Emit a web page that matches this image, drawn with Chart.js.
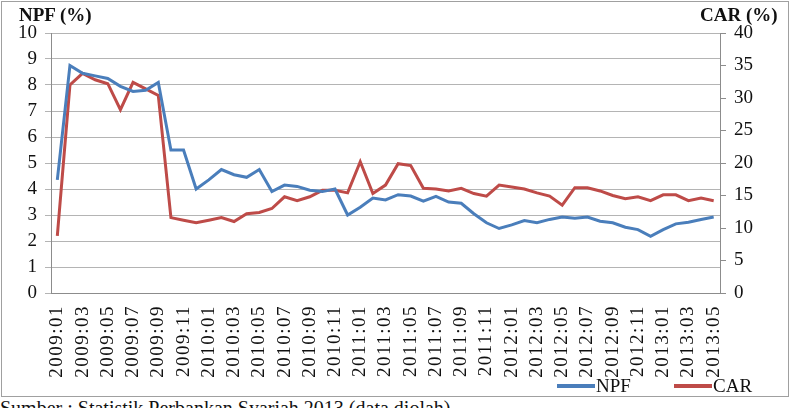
<!DOCTYPE html>
<html>
<head>
<meta charset="utf-8">
<script src="https://cdn.jsdelivr.net/npm/chart.js@4"></script>
<style>
    html, body { margin: 0; padding: 0; background: #fff; overflow: hidden; }
    body { width: 797px; height: 408px; position: relative; font-family: "Liberation Serif", "Times New Roman", serif; }
    .frame { position: absolute; left: 1px; top: 1px; width: 788px; height: 396px; border: 1px solid #a0a0a0; box-sizing: border-box; }
    .frame canvas { position: absolute; left: 0; top: 0; }
    .axis-title { position: absolute; font-weight: bold; font-size: 19px; color: #111; }
    .caption { position: absolute; left: 0; top: 397px; font-size: 20px; color: #111; white-space: nowrap; }
</style>
</head>
<body>
<div class="frame">
    <canvas id="npfChart" width="786" height="394"></canvas>
    <div class="axis-title" style="left:17px; top:2px;">NPF (%)</div>
    <div class="axis-title" style="left:698px; top:2px;">CAR (%)</div>
</div>
<div class="caption">Sumber : Statistik Perbankan Syariah 2013 (data diolah)</div>

<script>
// --- Data ---
const periods = [
    '2009:01', '2009:02', '2009:03', '2009:04', '2009:05', '2009:06', '2009:07', '2009:08', '2009:09', '2009:10', '2009:11', '2009:12',
    '2010:01', '2010:02', '2010:03', '2010:04', '2010:05', '2010:06', '2010:07', '2010:08', '2010:09', '2010:10', '2010:11', '2010:12',
    '2011:01', '2011:02', '2011:03', '2011:04', '2011:05', '2011:06', '2011:07', '2011:08', '2011:09', '2011:10', '2011:11', '2011:12',
    '2012:01', '2012:02', '2012:03', '2012:04', '2012:05', '2012:06', '2012:07', '2012:08', '2012:09', '2012:10', '2012:11', '2012:12',
    '2013:01', '2013:02', '2013:03', '2013:04', '2013:05'
];

const npf = [
    4.35, 8.75, 8.45, 8.35, 8.25, 7.95, 7.75, 7.8, 8.1, 5.5, 5.5, 4.0,
    4.35, 4.75, 4.55, 4.45, 4.75, 3.9, 4.15, 4.1, 3.95, 3.9, 4.0, 3.0,
    3.3, 3.65, 3.58, 3.78, 3.73, 3.53, 3.72, 3.5, 3.45, 3.05, 2.7, 2.48,
    2.62, 2.79, 2.7, 2.83, 2.92, 2.88, 2.92, 2.76, 2.7, 2.53, 2.44, 2.18,
    2.44, 2.66, 2.72, 2.83, 2.92
];

const car = [
    8.8, 32.0, 33.8, 32.8, 32.2, 28.2, 32.4, 31.4, 30.4, 11.6, 11.2, 10.8,
    11.2, 11.6, 11.0, 12.2, 12.4, 13.0, 14.8, 14.2, 14.8, 15.8, 15.8, 15.4,
    20.2, 15.3, 16.6, 19.9, 19.6, 16.1, 16.0, 15.7, 16.1, 15.3, 14.9, 16.6,
    16.3, 16.0, 15.4, 14.9, 13.5, 16.2, 16.2, 15.7, 15.0, 14.5, 14.8, 14.2,
    15.1, 15.1, 14.2, 14.6, 14.2
];

const npfTicks = { min: 0, max: 10, step: 1 };
const carTicks = { min: 0, max: 40, step: 5 };

const blue = '#4a7ebb';
const red = '#be4b48';
const serif = '"Liberation Serif", "Times New Roman", serif';

// legend drawn at the bottom right, like the Excel one
const bottomLegend = {
    id: 'bottomLegend',
    afterDraw(chart) {
        const ctx = chart.ctx;
        const y = 384;
        let x = 555;
        ctx.save();
        ctx.font = '19px ' + serif;
        ctx.textBaseline = 'middle';
        chart.data.datasets.forEach(ds => {
            ctx.strokeStyle = ds.borderColor;
            ctx.lineWidth = 4;
            ctx.beginPath();
            ctx.moveTo(x, y);
            ctx.lineTo(x + 38, y);
            ctx.stroke();
            ctx.fillStyle = '#111';
            ctx.fillText(ds.label, x + 39, y + 1);
            x += 117;
        });
        ctx.restore();
    }
};

const chart = new Chart(document.getElementById('npfChart'), {
    type: 'line',
    data: {
        labels: periods,
        datasets: [
            { label: 'NPF', data: npf, yAxisID: 'y', borderColor: blue, backgroundColor: blue, borderWidth: 3, pointRadius: 0, tension: 0 },
            { label: 'CAR', data: car, yAxisID: 'y1', borderColor: red, backgroundColor: red, borderWidth: 3, pointRadius: 0, tension: 0 }
        ]
    },
    options: {
        responsive: false,
        animation: false,
        devicePixelRatio: 1,
        layout: { padding: { top: 31, left: 0, right: 0, bottom: 0 } },
        plugins: {
            legend: { display: false },
            tooltip: { enabled: false }
        },
        scales: {
            x: {
                offset: true,
                grid: { display: false },
                border: { display: true, color: '#8c8c8c' },
                ticks: {
                    autoSkip: false,
                    maxRotation: 90,
                    minRotation: 90,
                    padding: 4,
                    color: '#111',
                    font: { family: serif, size: 19 },
                    callback: (v, i) => (i % 2 === 0 ? periods[i] : null)
                },
                afterFit: s => { s.height = 103; }
            },
            y: {
                position: 'left',
                min: npfTicks.min,
                max: npfTicks.max,
                grid: { color: '#b4b4b4', tickLength: 6 },
                border: { color: '#8c8c8c' },
                ticks: { stepSize: npfTicks.step, padding: 8, color: '#111', font: { family: serif, size: 19 } },
                afterFit: s => { s.width = 49; }
            },
            y1: {
                position: 'right',
                min: carTicks.min,
                max: carTicks.max,
                grid: { drawOnChartArea: false, color: '#8c8c8c', tickLength: 6 },
                border: { color: '#8c8c8c' },
                ticks: { stepSize: carTicks.step, padding: 8, color: '#111', font: { family: serif, size: 19 } },
                afterFit: s => { s.width = 68; }
            }
        }
    },
    plugins: [bottomLegend]
});

// the date labels in the original are spaced out, widen them a bit
const xScale = chart.scales.x;
const origDrawLabels = xScale.drawLabels.bind(xScale);
xScale.drawLabels = function (area) {
    const ctx = this.ctx;
    ctx.save();
    ctx.letterSpacing = '1.5px';
    origDrawLabels(area);
    ctx.restore();
};
chart.draw();
</script>
</body>
</html>
